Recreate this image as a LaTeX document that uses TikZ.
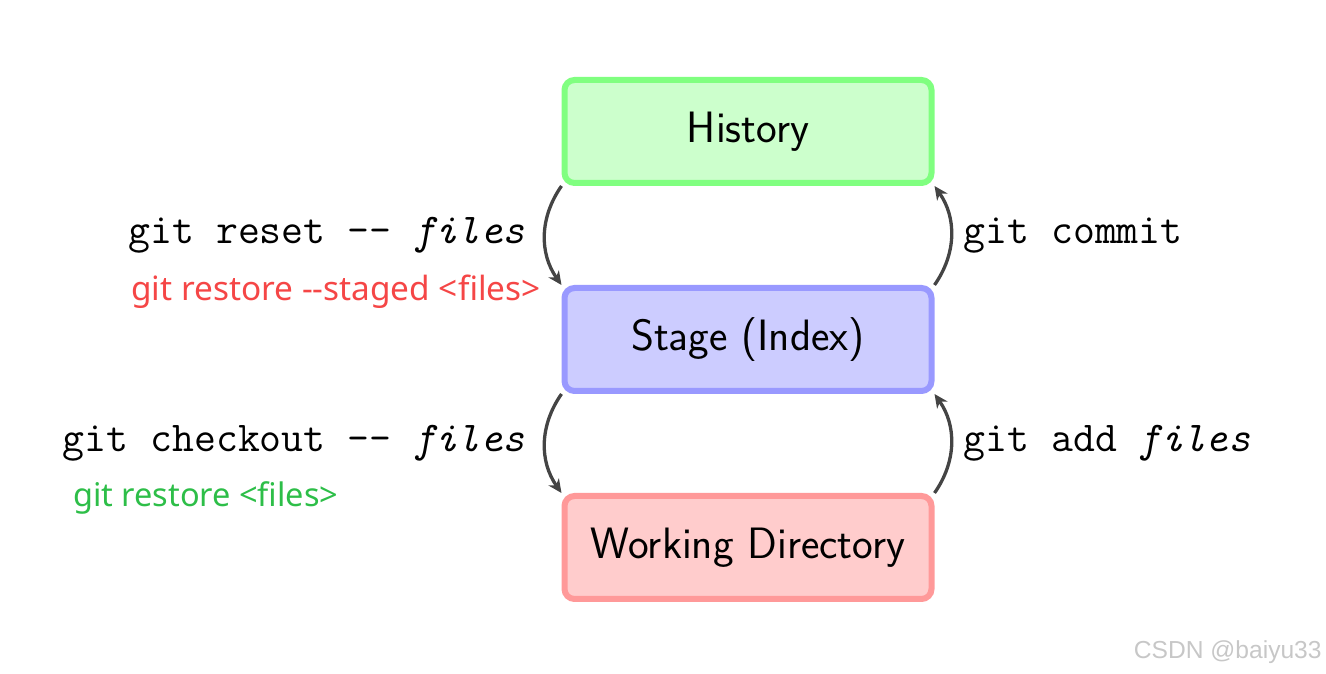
\documentclass[tikz,border=0pt]{standalone}
\usepackage{fontspec}
\newfontfamily\uifont{Noto Sans}
\newfontfamily\markfont{Liberation Sans}
\usetikzlibrary{positioning}
\usetikzlibrary{arrows.meta}
\definecolor{hintred}{HTML}{F54646}
\definecolor{hintgreen}{HTML}{2DBE48}
\definecolor{flowgray}{HTML}{444444}
\tikzset{
    node distance=1.98cm, % Gap between the three areas
    area/.style={ % Sets the properties for each area
        rectangle,
        rounded corners=0.2cm,
        line width=0.12cm,
        minimum width=7.34cm,
        minimum height=2.06cm,
        font=\sffamily\fontsize{25}{29}\selectfont
    },
    cmd/.style={font=\ttfamily\fontsize{24.2}{28}\selectfont, text=black}, % git commands
    hint/.style={font=\uifont\fontsize{19}{22}\selectfont}, % newer commands
    flow/.style={ % Sets the properties for each transition
        draw,
        -{Stealth[length=0.27cm, width=0.25cm, inset=0.08cm]},
        line width=0.066cm,
        flowgray,
        bend angle=35
    }
}
\begin{document}
\begin{tikzpicture}
    \useasboundingbox (0,0) rectangle (26.52,13.48);
    \node[area, draw=green!50, fill=green!20] (history) at (14.96,10.85) {History};
    \node[area, draw=blue!40, fill=blue!20, below=of history] (stage) {Stage (Index)};
    \node[area, draw=red!40, fill=red!20, below=of stage] (work) {Working Directory};

    \draw[flow] (history.south west) to[bend right] node[cmd, left, xshift=-0.25cm] (reset) {git reset -\kern0pt- \textit{files}} (stage.north west);
    \draw[flow] (stage.north east) to[bend right] node[cmd, right, xshift=0.1cm] (commit) {git commit} (history.south east);
    \draw[flow] (stage.south west) to[bend right] node[cmd, left, xshift=-0.25cm] (checkout) {git checkout -\kern0pt- \textit{files}} (work.north west);
    \draw[flow] (work.north east) to[bend right] node[cmd, right, xshift=0.1cm] (add) {git add \textit{files}} (stage.south east);

    \node[hint, text=hintred, anchor=north east, xshift=0.29cm, yshift=-0.16cm] (staged) at (reset.south east) {git restore -\kern0pt-staged <files>};
    \node[hint, text=hintgreen, anchor=north west, xshift=0.23cm, yshift=-0.12cm, font=\uifont\fontsize{18.5}{22}\selectfont] (restore) at (checkout.south west) {git restore <files>};

    \node[font=\markfont\fontsize{14}{16}\selectfont, text=black!22, inner sep=0pt, anchor=east] (mark) at (26.44,0.44) {CSDN @baiyu33};
\end{tikzpicture}
\end{document}
